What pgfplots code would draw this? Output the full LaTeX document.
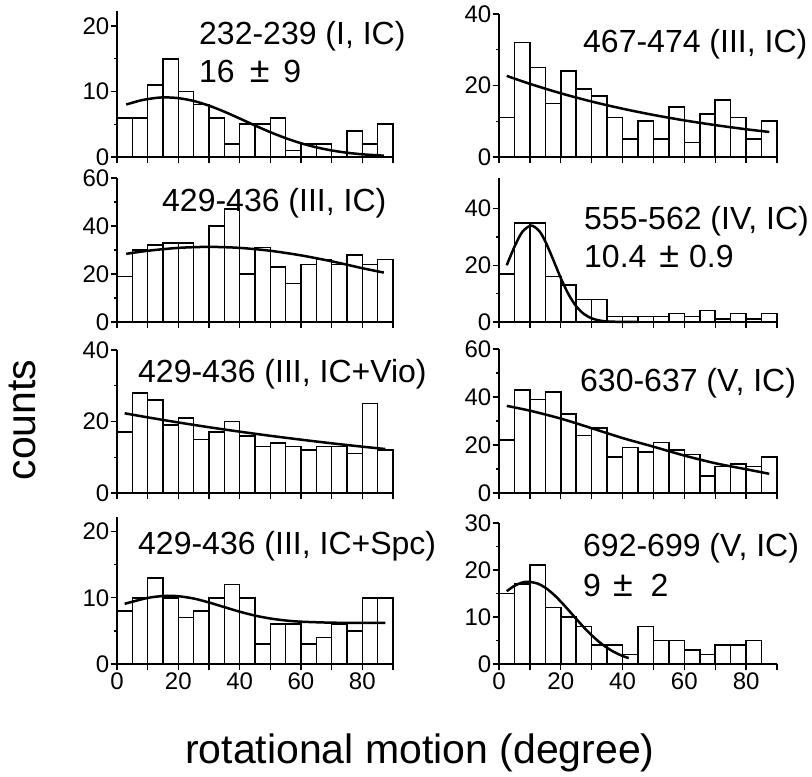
\documentclass[border=0pt]{standalone}
\usepackage{pgfplots}
\pgfplotsset{compat=1.18}
\usepackage{fontspec}
\setmainfont{Liberation Sans}

\pgfplotsset{
  hist/.style={
    scale only axis,
    xmin=0, xmax=90, ymin=0,
    axis x line*=bottom, axis y line*=left,
    axis line style={-, line width=1.5bp},
    tick align=outside,
    xtick={0,20,40,60,80},
    extra x ticks={10,30,50,70,90},
    extra x tick labels={},
    xticklabels={},
    major tick length=6.5bp, minor tick length=3.5bp,
    every tick/.style={black, line width=1.4bp},
    minor y tick num=1,
    every tick label/.append style={font=\fontsize{24bp}{28bp}\selectfont},
    yticklabel style={inner sep=1bp},
    xticklabel style={inner sep=2bp},
    /pgf/number format/assume math mode=true,
    clip=false,
  },
  bottomrow/.style={xticklabels={0,20,40,60,80}},
  bars/.style={ybar interval, fill=white, draw=black, line width=1.6bp},
  fit/.style={black, line width=2.5bp, smooth, no markers},
}
\newcommand{\pmsym}{\scalebox{1.12}{±}}

\begin{document}
\begin{tikzpicture}
\useasboundingbox (0,0) rectangle (812bp,777bp);

% ---------- Row 1 left: 232-239
\begin{axis}[hist, at={(117bp,620bp)}, anchor=south west, width=276bp, height=146bp, ymax=22.3, ytick={0,10,20}]
\addplot[bars] coordinates {(0,6) (5,6) (10,11) (15,15) (20,10) (25,8) (30,6) (35,2) (40,5) (45,5) (50,6) (55,1) (60,2) (65,2) (70,0) (75,4) (80,2) (85,5) (90,5)};
\addplot[fit] coordinates {(3,8.01) (8,8.67) (13,9.04) (16,9.1) (20,8.99) (25,8.56) (30,7.84) (35,6.92) (40,5.88) (45,4.81) (50,3.79) (55,2.88) (60,2.10) (65,1.48) (70,1.00) (75,0.65) (80,0.41) (87,0.20)};
\end{axis}

% ---------- Row 1 right: 467-474
\begin{axis}[hist, at={(499bp,620bp)}, anchor=south west, width=278bp, height=143bp, ymax=40, ytick={0,20,40}]
\addplot[bars] coordinates {(0,11) (5,32) (10,25) (15,15) (20,24) (25,19) (30,17) (35,11) (40,5) (45,10) (50,5) (55,14) (60,4) (65,12) (70,16) (75,11) (80,5) (85,10) (90,10)};
\addplot[fit] coordinates {(2.5,22.70) (10,20.46) (20,17.82) (30,15.51) (40,13.51) (50,11.76) (60,10.24) (70,8.92) (80,7.76) (87.5,7.00)};
\end{axis}

% ---------- Row 2 left: 429-436 (III, IC)
\begin{axis}[hist, at={(117bp,455bp)}, anchor=south west, width=276bp, height=144bp, ymax=60, ytick={0,20,40,60}]
\addplot[bars] coordinates {(0,19) (5,30) (10,32) (15,33) (20,33) (25,31) (30,40) (35,47) (40,20) (45,31) (50,23) (55,16) (60,24) (65,26) (70,24) (75,28) (80,24) (85,26) (90,26)};
\addplot[fit] coordinates {(3,28.4) (10,29.67) (20,30.88) (30,31.3) (40,30.88) (50,29.67) (60,27.76) (70,25.28) (80,22.42) (87,20.6)};
\end{axis}

% ---------- Row 2 right: 555-562
\begin{axis}[hist, at={(499bp,455bp)}, anchor=south west, width=278bp, height=143.5bp, ymax=50.6, ytick={0,20,40}]
\addplot[bars] coordinates {(0,17) (5,35) (10,35) (15,16) (20,13) (25,8) (30,8) (35,2) (40,2) (45,2) (50,2) (55,3) (60,2) (65,4) (70,1) (75,3) (80,1) (85,3) (90,3)};
\addplot[fit] coordinates {(2.5,20.0) (5,26.5) (7.5,31.7) (10.4,34) (13,32.1) (15,28.4) (17.5,22.1) (20,15.5) (22.5,9.78) (25,5.54) (27.5,2.82) (30,1.29) (32.5,0.53) (35,0.20) (40,0.02) (45,0)};
\end{axis}

% ---------- Row 3 left: 429-436 (III, IC+Vio)
\begin{axis}[hist, at={(117bp,284bp)}, anchor=south west, width=276bp, height=143bp, ymax=40, ytick={0,20,40}]
\addplot[bars] coordinates {(0,17) (5,28) (10,26) (15,19) (20,21) (25,15) (30,17) (35,20) (40,16) (45,13) (50,14) (55,13) (60,12) (65,13) (70,13) (75,11) (80,25) (85,12) (90,12)};
\addplot[fit] coordinates {(2.5,22.3) (10,21.16) (20,19.73) (30,18.40) (40,17.16) (50,16.0) (60,14.92) (70,13.9) (80,12.96) (87.5,12.30)};
\end{axis}

% ---------- Row 3 right: 630-637
\begin{axis}[hist, at={(499bp,284bp)}, anchor=south west, width=278bp, height=144bp, ymax=60, ytick={0,20,40,60}]
\addplot[bars] coordinates {(0,22) (5,43) (10,39) (15,42) (20,33) (25,24) (30,27) (35,15) (40,19) (45,17) (50,21) (55,18) (60,16) (65,7) (70,11) (75,12) (80,11) (85,15) (90,15)};
\addplot[fit] coordinates {(2.5,36.3) (10,34.3) (20,31.0) (30,27.0) (40,22.9) (50,19.3) (60,15.6) (70,12.4) (80,9.9) (87.5,8.0)};
\end{axis}

% ---------- Row 4 left: 429-436 (III, IC+Spc)
\begin{axis}[hist, bottomrow, at={(117bp,113bp)}, anchor=south west, width=276bp, height=147bp, ymax=22.2, ytick={0,10,20}]
\addplot[bars] coordinates {(0,8) (5,10) (10,13) (15,10) (20,7) (25,8) (30,10) (35,12) (40,10) (45,3) (50,6) (55,6) (60,3) (65,4) (70,6) (75,5) (80,10) (85,10) (90,10)};
\addplot[fit] coordinates {(2.5,9.09) (10,9.98) (15,10.27) (17,10.3) (20,10.24) (25,9.89) (30,9.29) (35,8.59) (40,7.90) (45,7.31) (50,6.87) (55,6.57) (60,6.39) (70,6.24) (80,6.21) (87.5,6.2)};
\end{axis}

% ---------- Row 4 right: 692-699
\begin{axis}[hist, bottomrow, at={(499bp,113bp)}, anchor=south west, width=278bp, height=141bp, ymax=30, ytick={0,10,20,30}]
\addplot[bars] coordinates {(0,15) (5,17) (10,21) (15,12) (20,10) (25,8) (30,4) (35,4) (40,2) (45,8) (50,5) (55,5) (60,3) (65,2) (70,4) (75,4) (80,5) (85,0) (90,0)};
\addplot[fit] coordinates {(2.5,15.49) (5,16.64) (7.5,17.33) (9.5,17.5) (12.5,17.11) (15,16.23) (17.5,14.91) (20,13.28) (22.5,11.47) (25,9.60) (27.5,7.78) (30,6.12) (32.5,4.66) (35,3.44) (37.5,2.47) (40,1.71) (42,1.25)};
\end{axis}

% ---------- panel titles
\begin{scope}[every node/.style={anchor=base west, inner sep=0pt, font=\fontsize{32bp}{36bp}\selectfont}]
\node at (199bp,732bp) {232-239 (I, IC)};
\node at (199bp,694bp) {16\hspace{15bp}\pmsym\hspace{14bp}9};
\node at (583bp,724bp) {467-474 (III, IC)};
\node at (162bp,565bp) {429-436 (III, IC)};
\node at (584bp,547bp) {555-562 (IV, IC)};
\node at (584bp,509bp) {10.4\hspace{13bp}\pmsym\hspace{10bp}0.9};
\node at (138bp,394bp) {429-436 (III, IC+Vio)};
\node at (580bp,385bp) {630-637 (V, IC)};
\node at (138bp,222bp) {429-436 (III, IC+Spc)};
\node at (583bp,220bp) {692-699 (V, IC)};
\node at (583bp,180bp) {9\hspace{12bp}\pmsym\hspace{18bp}2};
\end{scope}

% ---------- axis labels
\node[rotate=90, anchor=base, inner sep=0pt, font=\fontsize{41bp}{46bp}\selectfont] at (35bp,357bp) {counts};
\node[anchor=base, inner sep=0pt, font=\fontsize{41bp}{46bp}\selectfont] at (420bp,14bp) {rotational motion (degree)};
\end{tikzpicture}
\end{document}
